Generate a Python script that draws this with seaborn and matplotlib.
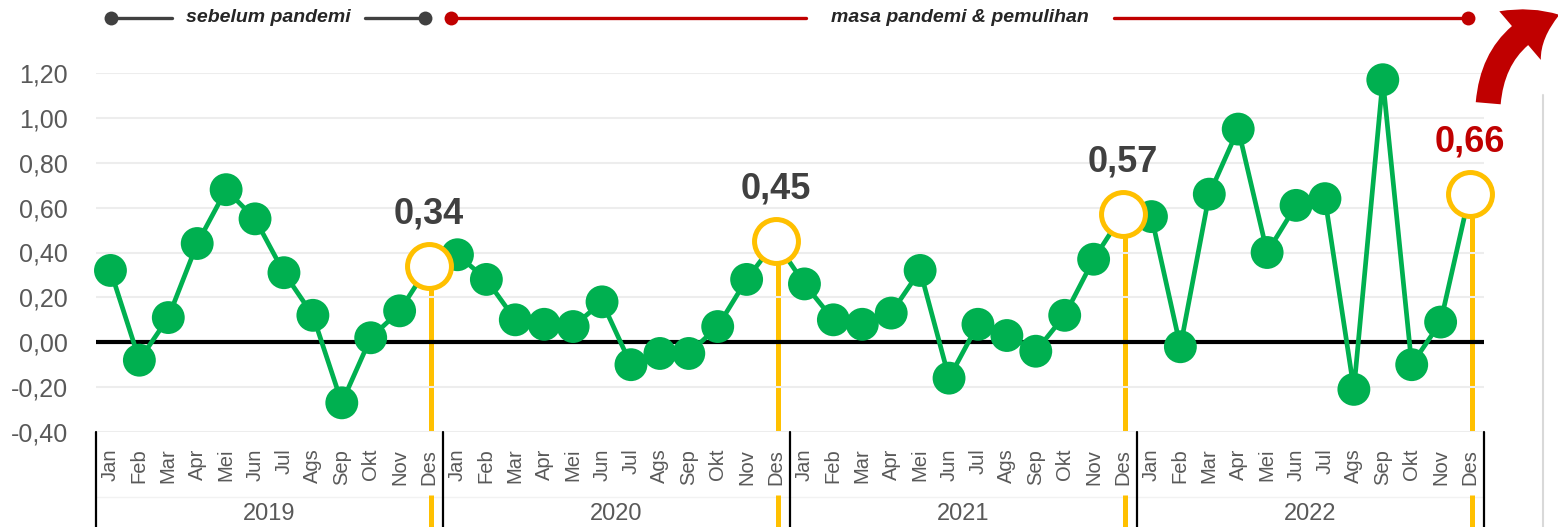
import matplotlib
matplotlib.use("Agg")
import matplotlib.pyplot as plt
from matplotlib.patches import FancyArrowPatch
from matplotlib.lines import Line2D
import seaborn as sns
import pandas as pd
import numpy as np

# ---------------- data ----------------
months = ['Jan', 'Feb', 'Mar', 'Apr', 'Mei', 'Jun', 'Jul', 'Ags', 'Sep', 'Okt', 'Nov', 'Des']
years = ['2019', '2020', '2021', '2022']
v2019 = [0.32, -0.08, 0.11, 0.44, 0.68, 0.55, 0.31, 0.12, -0.27, 0.02, 0.14, 0.34]
v2020 = [0.39, 0.28, 0.10, 0.08, 0.07, 0.18, -0.10, -0.05, -0.05, 0.07, 0.28, 0.45]
v2021 = [0.26, 0.10, 0.08, 0.13, 0.32, -0.16, 0.08, 0.03, -0.04, 0.12, 0.37, 0.57]
v2022 = [0.56, -0.02, 0.66, 0.95, 0.40, 0.61, 0.64, -0.21, 1.17, -0.10, 0.09, 0.66]
yticks = [-0.40, -0.20, 0.00, 0.20, 0.40, 0.60, 0.80, 1.00, 1.20]
banner_left = 'sebelum pandemi'
banner_right = 'masa pandemi & pemulihan'

values = v2019 + v2020 + v2021 + v2022
df = pd.DataFrame({
    'idx': np.arange(len(values)),
    'month': months * len(years),
    'year': np.repeat(years, len(months)),
    'value': values,
})
des = df[df['month'] == 'Des']
others = df[df['month'] != 'Des']

# ---------------- style ----------------
sns.set_theme(style='white')
plt.rcParams['font.family'] = ['Liberation Sans Narrow', 'Liberation Sans', 'DejaVu Sans']

GREEN = '#00B050'
YELLOW = '#FFC000'
RED = '#C00000'
DARK = '#404040'
TICK = '#595959'
GRID = '#EDEDED'

W, H = 1558, 527
fig = plt.figure(figsize=(W / 100, H / 100), dpi=100)
fig.patch.set_facecolor('white')
ax_l, ax_r, ax_t, ax_b = 96, 1484, 73, 432
ax = fig.add_axes([ax_l / W, 1 - ax_b / H, (ax_r - ax_l) / W, (ax_b - ax_t) / H])
ax.set_facecolor('white')

ax.set_xlim(-0.5, len(values) - 0.5)
ax.set_ylim(yticks[0], yticks[-1])

# grid lines
for yv in yticks:
    if yv == 0:
        continue
    ax.axhline(yv, color=GRID, lw=1.5, zorder=1)
ax.axhline(0, color='black', lw=3, zorder=2)

# yellow vertical markers for December
px_per_unit = (ax_b - ax_t) / (yticks[-1] - yticks[0])
gap = 21 / px_per_unit
ax_h = ax_b - ax_t
trans = ax.get_xaxis_transform()
for _, r in des.iterrows():
    ax.plot([r['idx'] + 0.1, r['idx'] + 0.1], [r['value'] - gap, yticks[0]],
            color=YELLOW, lw=3.6, zorder=0.8, solid_capstyle='butt')
    ax.add_line(Line2D([r['idx'] + 0.1, r['idx'] + 0.1],
                       [-(495 - ax_b) / ax_h, -(H - ax_b) / ax_h],
                       transform=trans, color=YELLOW, lw=3.6, clip_on=False,
                       solid_capstyle='butt'))

# main line and markers
sns.lineplot(data=df, x='idx', y='value', ax=ax, color=GREEN, lw=3.4,
             zorder=3, legend=False)
ax.lines[-1].set_clip_on(False)
sns.scatterplot(data=others, x='idx', y='value', ax=ax, color=GREEN, s=560,
                edgecolor='none', zorder=4, legend=False, clip_on=False)
sns.scatterplot(data=des, x='idx', y='value', ax=ax, color='white', s=1000,
                edgecolor=YELLOW, linewidth=3.6, zorder=5, legend=False, clip_on=False)

# data labels for December
for k, (_, r) in enumerate(des.iterrows()):
    col = RED if k == len(des) - 1 else DARK
    ax.annotate(f"{r['value']:.2f}".replace('.', ','), (r['idx'], r['value']),
                xytext=(0, 52), textcoords='offset pixels', ha='center', va='center',
                fontsize=26, fontweight='bold', color=col, zorder=6)

# axes formatting
for s in ax.spines.values():
    s.set_visible(False)
ax.set_yticks(yticks)
ax.set_yticklabels([f"{v:.2f}".replace('.', ',') for v in yticks], fontsize=18, color=TICK)
ax.tick_params(axis='y', length=0, pad=20)
ax.set_xticks(df['idx'])
ax.set_xticklabels(df['month'], rotation=90, fontsize=14.5, color=TICK)
ax.tick_params(axis='x', length=0, pad=12)
ax.set_xlabel('')
ax.set_ylabel('')

# year labels and group separators
for gi, yr in enumerate(years):
    c = gi * len(months) + (len(months) - 1) / 2
    ax.text(c, -(514 - ax_b) / ax_h, yr, transform=trans, ha='center', va='center',
            fontsize=17, color=TICK)
for gi in range(len(years) + 1):
    xv = gi * len(months) - 0.5
    ax.add_line(Line2D([xv, xv], [0, -(H - ax_b) / ax_h], transform=trans,
                       color='black', lw=1.6, clip_on=False))
ax.add_line(Line2D([-0.5, len(values) - 0.5], [-(497 - ax_b) / ax_h] * 2, transform=trans,
                   color='#F2F2F2', lw=1, clip_on=False, zorder=0.5))

# ---------------- top banner ----------------
def fx(px):
    return px / W

def fy(py):
    return 1 - py / H

by = 18
fig.add_artist(Line2D([fx(111), fx(172)], [fy(by)] * 2, color=DARK, lw=2.4))
fig.add_artist(Line2D([fx(365), fx(425)], [fy(by)] * 2, color=DARK, lw=2.4))
fig.add_artist(Line2D([fx(111), fx(425)], [fy(by)] * 2, color=DARK, lw=0, marker='o',
                      markersize=10, markerfacecolor=DARK, markeredgecolor='none'))
fig.text(fx(268), fy(by), banner_left, ha='center', va='center', fontsize=14,
         fontweight='bold', fontstyle='italic', color='#262626')
fig.add_artist(Line2D([fx(451), fx(806)], [fy(by)] * 2, color=RED, lw=2.4))
fig.add_artist(Line2D([fx(1114), fx(1468)], [fy(by)] * 2, color=RED, lw=2.4))
fig.add_artist(Line2D([fx(451), fx(1468)], [fy(by)] * 2, color=RED, lw=0, marker='o',
                      markersize=10, markerfacecolor=RED, markeredgecolor='none'))
fig.text(fx(960), fy(by), banner_right, ha='center', va='center', fontsize=14,
         fontweight='bold', fontstyle='italic', color='#262626')

# right side decoration
fig.add_artist(Line2D([fx(1543), fx(1543)], [fy(95), fy(H)], color='#D9D9D9', lw=1.5))
arrow = FancyArrowPatch((fx(1488), fy(106)), (fx(1562), fy(14)),
                        transform=fig.transFigure,
                        connectionstyle='arc3,rad=-0.35',
                        arrowstyle='simple,head_width=2.3,head_length=1.6,tail_width=0.9',
                        mutation_scale=20, color=RED, lw=0)
fig.add_artist(arrow)

fig.savefig('out.png', dpi=100, facecolor='white')
